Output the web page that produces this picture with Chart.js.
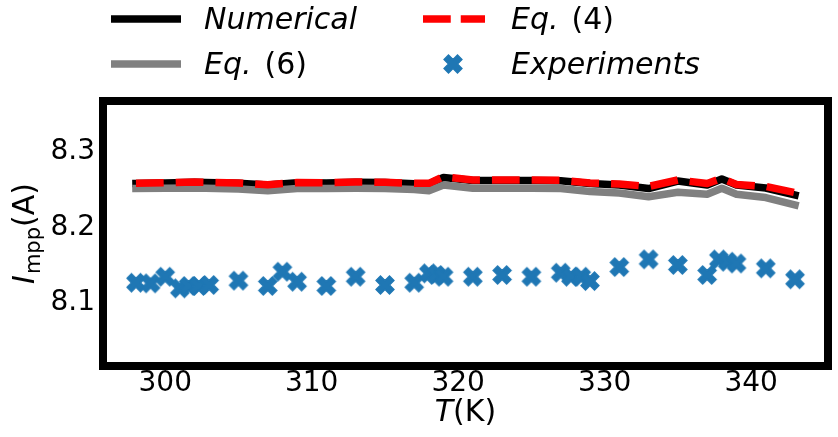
<!DOCTYPE html>
<html><head><meta charset="utf-8">
<script src="https://cdn.jsdelivr.net/npm/chart.js@4"></script>
<style>html,body{margin:0;padding:0;background:#fff;} canvas{display:block;}</style>
</head><body>
<canvas id="c" width="838" height="437"></canvas>
<script>
// ---- data ----
const lineT = [298, 300, 302, 305, 307, 309, 311, 313, 315, 317, 318, 319, 321, 323, 325, 327, 329, 331, 333, 335, 337, 338, 339, 341, 343];
const numerical = [8.2580, 8.2587, 8.2596, 8.2583, 8.2561, 8.2590, 8.2587, 8.2596, 8.2594, 8.2576, 8.2574, 8.2660, 8.2620, 8.2620, 8.2620, 8.2616, 8.2580, 8.2561, 8.2514, 8.2613, 8.2561, 8.2640, 8.2561, 8.2521, 8.2428];
const eq4 = [8.2583, 8.2590, 8.2600, 8.2587, 8.2564, 8.2594, 8.2591, 8.2600, 8.2596, 8.2583, 8.2583, 8.2670, 8.2627, 8.2627, 8.2627, 8.2624, 8.2587, 8.2574, 8.2541, 8.2627, 8.2580, 8.2649, 8.2567, 8.2541, 8.2461];
const eq6 = [8.2514, 8.2517, 8.2521, 8.2508, 8.2485, 8.2514, 8.2514, 8.2517, 8.2514, 8.2501, 8.2485, 8.2561, 8.2517, 8.2517, 8.2517, 8.2514, 8.2475, 8.2455, 8.2406, 8.2464, 8.2438, 8.2517, 8.2438, 8.2395, 8.2296];
const expT = [298, 299, 300, 301, 301.6, 302.3, 303, 305, 307, 308, 309, 311, 313, 315, 317, 318, 318.5, 319, 321, 323, 325, 327, 327.7, 328.4, 329, 331, 333, 335, 337, 337.8, 338.4, 339, 341, 343];
const expI = [8.1270, 8.1262, 8.1349, 8.1196, 8.1227, 8.1227, 8.1240, 8.1297, 8.1227, 8.1415, 8.1283, 8.1227, 8.1349, 8.1240, 8.1270, 8.1394, 8.1372, 8.1349, 8.1349, 8.1372, 8.1349, 8.1402, 8.1349, 8.1349, 8.1292, 8.1477, 8.1579, 8.1504, 8.1372, 8.1577, 8.1547, 8.1524, 8.1460, 8.1315];
const xTicks = [300, 310, 320, 330, 340];
const yTicks = [8.1, 8.2, 8.3];
const xRange = [295.75, 345.25];
const yRange = [8.017, 8.367];

// ---- styles ----
const FAM = "'DejaVu Sans'";
const BLUE = '#1f77b4';
function makeX(size, color) {
  const n = 26;
  const c = document.createElement('canvas'); c.width = n; c.height = n;
  const g = c.getContext('2d');
  const v = [[-1,-2],[0,-1],[1,-2],[2,-1],[1,0],[2,1],[1,2],[0,1],[-1,2],[-2,1],[-1,0],[-2,-1]];
  g.beginPath();
  v.forEach((p, i) => { const x = n/2 + p[0]/4*size, y = n/2 + p[1]/4*size; i ? g.lineTo(x, y) : g.moveTo(x, y); });
  g.closePath();
  g.fillStyle = color; g.fill();
  g.lineWidth = 1.3; g.strokeStyle = color; g.lineJoin = 'miter'; g.stroke();
  return c;
}
const xImg = makeX(18, BLUE);
const pts = (xs, ys) => xs.map((x, i) => ({x: x, y: ys[i]}));

const framePlugin = {
  id: 'frame',
  afterDatasetsDraw(chart) {
    const a = chart.chartArea, g = chart.ctx;
    g.save();
    g.lineWidth = 8; g.strokeStyle = '#000'; g.lineJoin = 'miter';
    g.strokeRect(a.left, a.top, a.right - a.left, a.bottom - a.top);
    g.restore();
  },
  afterDraw(chart) {
    const g = chart.ctx, a = chart.chartArea;
    g.save();
    g.fillStyle = '#000'; g.textBaseline = 'alphabetic'; g.textAlign = 'left';
    const it = 'italic 30px ' + FAM, rm = '30px ' + FAM, sub = '21px ' + FAM;
    const mw = (f, s) => { g.font = f; return g.measureText(s).width; };
    // x label
    const wT = mw(it, 'T'), wK = mw(rm, '(K)');
    let x0 = (a.left + a.right) / 2 - (wT + wK) / 2;
    g.font = it; g.fillText('T', x0, 421);
    g.font = rm; g.fillText('(K)', x0 + wT, 421);
    // y label (rotated)
    const wI = mw(it, 'I'), wM = mw(sub, 'mpp'), wA = mw(rm, '(A)');
    const tot = wI + 1 + wM + wA;
    g.save();
    g.translate(34, (a.top + a.bottom) / 2 + tot / 2);
    g.rotate(-Math.PI / 2);
    g.font = it; g.fillText('I', 0, 0);
    g.font = sub; g.fillText('mpp', wI + 1, 6);
    g.font = rm; g.fillText('(A)', wI + 1 + wM, 0);
    g.restore();
    // legend
    const r1 = 19, r2 = 64, b1 = 29, b2 = 74;
    g.lineWidth = 7.5;
    g.strokeStyle = '#000'; g.lineCap = 'butt';
    g.beginPath(); g.moveTo(111, r1); g.lineTo(181, r1); g.stroke();
    g.strokeStyle = '#808080';
    g.beginPath(); g.moveTo(111, r2); g.lineTo(181, r2); g.stroke();
    g.strokeStyle = '#ff0000'; g.setLineDash([27.75, 10]);
    g.beginPath(); g.moveTo(423, r1); g.lineTo(485, r1); g.stroke();
    g.setLineDash([]);
    g.drawImage(xImg, 453 - xImg.width / 2, r2 - xImg.height / 2);
    g.font = it; g.fillText('Numerical', 204, b1);
    let w = mw(it, 'Eq.');
    g.font = it; g.fillText('Eq.', 511, b1);
    g.font = rm; g.fillText('(4)', 511 + w + 13, b1);
    g.font = it; g.fillText('Eq.', 204, b2);
    g.font = rm; g.fillText('(6)', 204 + w + 13, b2);
    g.font = it; g.fillText('Experiments', 511, b2);
    g.restore();
  }
};

new Chart(document.getElementById('c').getContext('2d'), {
  type: 'scatter',
  data: {
    datasets: [
      {label: 'Experiments', data: pts(expT, expI), pointStyle: xImg, pointRadius: 9, showLine: false, order: 0},
      {label: 'Eq. (4)', data: pts(lineT, eq4), showLine: true, borderColor: '#ff0000', borderWidth: 7.5,
        borderDash: [27.75, 12], borderCapStyle: 'butt', borderJoinStyle: 'round', pointRadius: 0, fill: false, tension: 0, order: 1},
      {label: 'Eq. (6)', data: pts(lineT, eq6), showLine: true, borderColor: '#808080', borderWidth: 7.5,
        borderCapStyle: 'square', borderJoinStyle: 'round', pointRadius: 0, fill: false, tension: 0, order: 2},
      {label: 'Numerical', data: pts(lineT, numerical), showLine: true, borderColor: '#000000', borderWidth: 7.5,
        borderCapStyle: 'square', borderJoinStyle: 'round', pointRadius: 0, fill: false, tension: 0, order: 3}
    ]
  },
  options: {
    responsive: false, animation: false, devicePixelRatio: 1,
    layout: {padding: {top: 101, right: 3, left: 0, bottom: 0}},
    plugins: {legend: {display: false}, tooltip: {enabled: false}},
    scales: {
      x: {
        type: 'linear', min: xRange[0], max: xRange[1],
        grid: {display: false, drawTicks: false}, border: {display: false},
        ticks: {font: {family: FAM, size: 28}, color: '#000', padding: 1, maxRotation: 0, autoSkip: false,
          callback: v => String(v)},
        afterBuildTicks: s => { s.ticks = xTicks.map(v => ({value: v})); },
        afterFit: s => { s.height = 71; }
      },
      y: {
        type: 'linear', min: yRange[0], max: yRange[1],
        grid: {display: false, drawTicks: false}, border: {display: false},
        ticks: {font: {family: FAM, size: 28}, color: '#000', padding: 8, autoSkip: false,
          callback: v => v.toFixed(1)},
        afterBuildTicks: s => { s.ticks = yTicks.map(v => ({value: v})); },
        afterFit: s => { s.width = 103; }
      }
    }
  },
  plugins: [framePlugin]
});
</script>
</body></html>
